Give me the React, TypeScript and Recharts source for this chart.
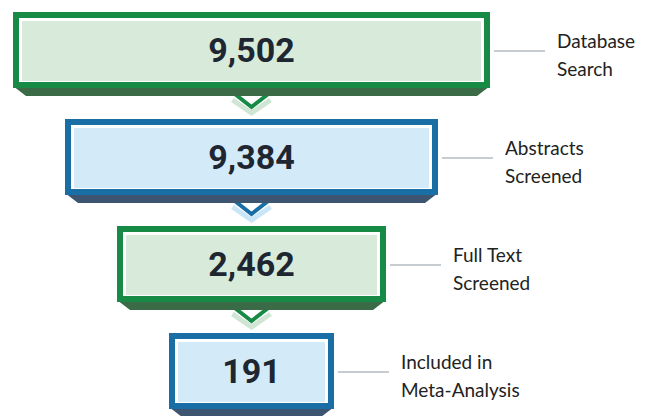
import React from 'react';
import { BarChart, Bar, XAxis, YAxis, LabelList } from 'recharts';

// stages of the screening funnel
const stages = ['Database Search', 'Abstracts Screened', 'Full Text Screened', 'Included in Meta-Analysis'];
const counts = [9502, 9384, 2462, 191];
const labelLines = [
  ['Database', 'Search'],
  ['Abstracts', 'Screened'],
  ['Full Text', 'Screened'],
  ['Included in', 'Meta-Analysis'],
];
const themeKeys = ['green', 'blue', 'green', 'blue'];

const themes: Record<string, { border: string; fill: string; shadow: string; light: string }> = {
  green: { border: '#178a45', fill: '#d8ebdb', shadow: '#3b6a46', light: '#cfe6d4' },
  blue: { border: '#1a6ea6', fill: '#d3ebf9', shadow: '#3d5570', light: '#c9e5f7' },
};

const data = stages.map((stage, i) => ({
  stage,
  count: counts[i],
  lines: labelLines[i],
  theme: themeKeys[i],
}));

const W = 650;
const H = 416;
const CX = 251.5;
// box width shrinks by step, not by value
const halfWidth = (i: number) => 238.5 - 52 * i;

const BoxShape = (props: any) => {
  const { y, height, payload } = props;
  const i = stages.indexOf(payload.stage);
  const t = themes[payload.theme];
  const x0 = CX - halfWidth(i);
  const x1 = CX + halfWidth(i);
  const y0 = y;
  const y1 = y + height;
  const last = i === stages.length - 1;
  return (
    <g>
      {!last && (
        <g>
          <polyline
            points={`${CX - 19},${y1 + 12} ${CX},${y1 + 25} ${CX + 19},${y1 + 12}`}
            fill="none"
            stroke={t.light}
            strokeWidth={5}
          />
          <polyline
            points={`${CX - 18},${y1 + 5} ${CX},${y1 + 19} ${CX + 18},${y1 + 5}`}
            fill="none"
            stroke={t.border}
            strokeWidth={4}
          />
        </g>
      )}
      {/* bottom face */}
      <polygon
        points={`${x0},${y1 - 2} ${x1},${y1 - 2} ${x1 - 13},${y1 + 8} ${x0 + 13},${y1 + 8}`}
        fill={t.shadow}
      />
      <rect x={x0} y={y0} width={x1 - x0} height={y1 - y0} fill={t.border} />
      <rect x={x0 + 6} y={y0 + 6} width={x1 - x0 - 12} height={y1 - y0 - 12} fill="#ffffff" />
      <rect x={x0 + 9} y={y0 + 9} width={x1 - x0 - 18} height={y1 - y0 - 16} fill={t.fill} />
    </g>
  );
};

const CountLabel = (props: any) => {
  const { y, height, value } = props;
  return (
    <text
      x={CX}
      y={y + height / 2 + 12}
      textAnchor="middle"
      fontFamily="Roboto, sans-serif"
      fontWeight={700}
      fontSize={34}
      fill="#1e2731"
    >
      {Number(value).toLocaleString('en-US')}
    </text>
  );
};

const SideLabel = (props: any) => {
  const { y, height, index } = props;
  const i = typeof index === 'number' ? index : 0;
  const x1 = CX + halfWidth(i);
  const cy = y + height / 2;
  const lines = labelLines[i];
  return (
    <g>
      <line x1={x1 + 4} x2={x1 + 55} y1={cy + 1} y2={cy + 1} stroke="#b4bbc2" strokeWidth={1.5} />
      {lines.map((ln, k) => (
        <text
          key={k}
          x={x1 + 67}
          y={cy - 2 + k * 28}
          fontFamily="Lato, sans-serif"
          fontSize={19}
          fill="#222222"
        >
          {ln}
        </text>
      ))}
    </g>
  );
};

export default function App() {
  return (
    <div style={{ position: 'absolute', left: 0, top: 0, width: W, height: H, background: '#ffffff' }}>
      <BarChart
        width={W}
        height={H}
        data={data}
        layout="vertical"
        margin={{ top: -4, right: 0, bottom: -8, left: 0 }}
      >
        <XAxis type="number" hide domain={[0, 10000]} />
        <YAxis type="category" dataKey="stage" hide />
        <Bar dataKey="count" barSize={76} shape={<BoxShape />} isAnimationActive={false}>
          <LabelList dataKey="count" content={<CountLabel />} />
          <LabelList dataKey="stage" content={<SideLabel />} />
        </Bar>
      </BarChart>
    </div>
  );
}
